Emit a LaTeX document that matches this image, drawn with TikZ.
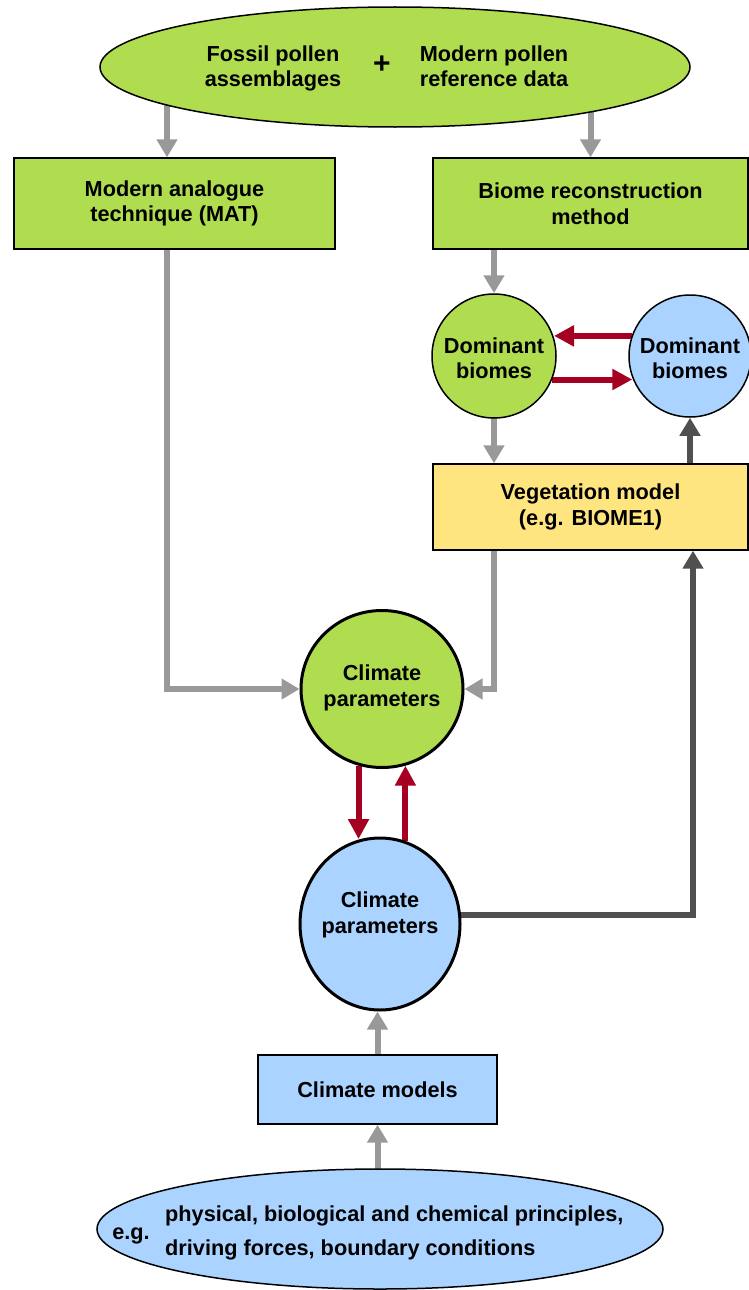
\documentclass[tikz,border=0pt]{standalone}
\usepackage{fontspec}
\setmainfont{Liberation Sans}
\usetikzlibrary{arrows.meta,shapes.geometric,calc}
\pgfdeclarelayer{bg}
\pgfsetlayers{bg,main}
\definecolor{cgreen}{RGB}{176,221,80}
\definecolor{cblue}{RGB}{170,212,255}
\definecolor{cyellow}{RGB}{255,229,128}
\definecolor{lgrey}{RGB}{153,153,153}
\definecolor{dgrey}{RGB}{80,80,80}
\definecolor{dred}{RGB}{165,0,33}
\begin{document}
\begin{tikzpicture}[x=1pt,y=-1pt,
  font=\bfseries\fontsize{21.7}{25.5}\selectfont,
  box/.style={draw=black, line width=1.3pt, rectangle, inner sep=0pt},
  oval/.style={draw=black, line width=1.5pt, ellipse, inner sep=0pt},
  thickoval/.style={draw=black, line width=3pt, ellipse, inner sep=0pt},
  rnd/.style={draw=black, line width=1.5pt, circle, inner sep=0pt},
  txt/.style={align=center, inner sep=0pt},
  garrow/.style={draw=lgrey, line width=6pt, -{Triangle[length=18pt,width=20pt]}},
  darrow/.style={draw=dgrey, line width=6pt, -{Triangle[length=18pt,width=20pt]}},
  rarrow/.style={draw=dred, line width=6pt, -{Triangle[length=20pt,width=20pt]}},
]
\useasboundingbox (0,0) rectangle (748,1290);

% shapes
\node[oval, fill=cgreen, minimum width=590pt, minimum height=120pt] (top) at (395,67) {};
\node[box, fill=cgreen, minimum width=321pt, minimum height=91pt] (mat) at (174.5,203.5) {};
\node[box, fill=cgreen, minimum width=315pt, minimum height=91pt] (bio) at (590.5,203.5) {};
\node[rnd, fill=cgreen, minimum size=124pt] (dg) at (494,356) {};
\node[rnd, fill=cblue, minimum size=122pt] (db) at (690,356) {};
\node[box, fill=cyellow, minimum width=315pt, minimum height=86pt] (veg) at (590.5,507) {};
\node[thickoval, fill=cgreen, minimum width=162pt, minimum height=157pt] (cg) at (382,689) {};
\node[thickoval, fill=cblue, minimum width=160pt, minimum height=172pt] (cb) at (380,924) {};
\node[box, fill=cblue, minimum width=239pt, minimum height=69pt] (cm) at (377.5,1089.5) {};
\node[oval, fill=cblue, minimum width=566pt, minimum height=120pt] (bot) at (380,1229) {};

% texts
\node[txt, anchor=north] (t1) at (273,45.5) {Fossil pollen\\assemblages};
\node[txt] (plus) at (382,65) {\fontsize{30}{30}\selectfont +};
\node[txt, anchor=north] (t2) at (494,45.5) {Modern pollen\\reference data};
\node[txt] (tmat) at (mat) {Modern analogue\\technique (MAT)};
\node[txt] (tbio) at (bio) {Biome reconstruction\\method};
\node[txt] (tdg) at (494,358) {Dominant\\biomes};
\node[txt] (tdb) at (690,358) {Dominant\\biomes};
\node[txt] (tveg) at (veg) {Vegetation model\\(e.g. BIOME1)};
\node[txt] (tcg) at (382,688) {Climate\\parameters};
\node[txt] (tcb) at (380,915) {Climate\\parameters};
\node[txt] (tcm) at (cm) {Climate models};
\node[txt] (teg) at (131,1236) {e.g.};
\node[txt, align=left, anchor=west, font=\bfseries\fontsize{21.7}{34}\selectfont] (tphys) at (165,1233)
  {physical, biological and chemical principles,\\driving forces, boundary conditions};

\coordinate (xl) at ([xshift=-7.5pt]mat.north);
\coordinate (xlb) at ([xshift=-7.5pt]mat.south);

\begin{pgfonlayer}{bg}
  \draw[garrow] (top.center -| xl) -- (xl);
  \draw[garrow] (top.center -| bio.north) -- (bio.north);
  \draw[garrow] (bio.center -| dg.north) -- (dg.north);
  \draw[garrow] (dg.center) -- (dg |- veg.north);
  \draw[garrow] (xlb) |- (cg.west);
  \draw[garrow] (dg |- veg.center) |- (cg.east);
  \draw[darrow] (db |- veg.center) -- (db.south);
  \draw[darrow] ([yshift=9pt]cb.center) -| ([xshift=3pt]db |- veg.south);
  \draw[rarrow] (db.161.9) -- (db.161.9 -| dg.17.8);
  \draw[rarrow] (dg.338.8) -- (dg.338.8 -| db.201.5);
  \draw[rarrow] (cg.253.7) -- (cg.253.7 |- cb.103.5);
  \draw[rarrow] (cb.73) -- (cb.73 |- cg.287.1);
  \draw[garrow] (cm.center) -- (cm.north |- cb.south);
  \draw[garrow] (cm.south |- bot.center) -- (cm.south);
\end{pgfonlayer}
\end{tikzpicture}
\end{document}
